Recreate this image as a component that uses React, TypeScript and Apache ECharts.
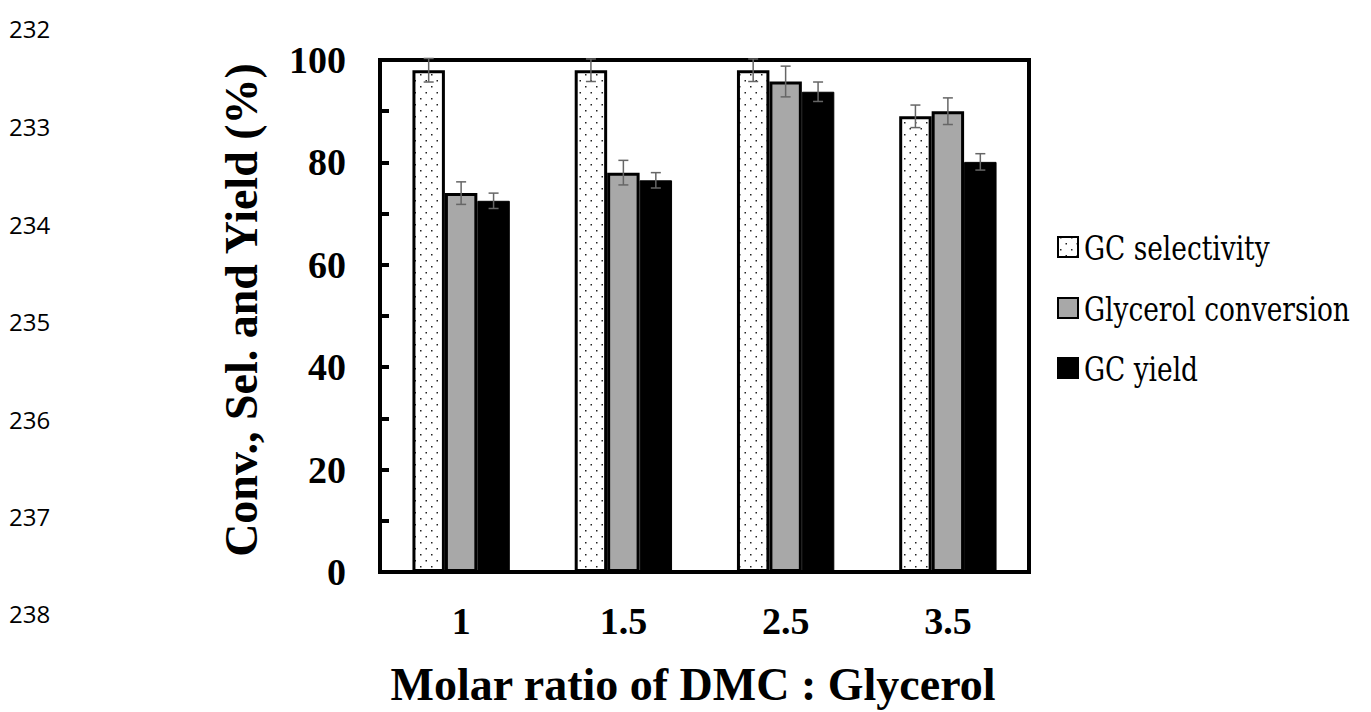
import React, { useEffect, useRef } from "react";
import * as echarts from "echarts";

const categories = ["1", "1.5", "2.5", "3.5"];
const seriesNames = ["GC selectivity", "Glycerol conversion", "GC yield"];
const selectivity = [98, 98, 98, 89];
const conversion = [74, 78, 95.8, 90];
const gcYield = [72.5, 76.5, 93.8, 80.1];
const selectivityErr = [2.3, 2.2, 2.2, 2.2];
const conversionErr = [2.2, 2.4, 3.0, 2.6];
const yieldErr = [1.5, 1.5, 1.9, 1.6];
const lineNumbers = ["232", "233", "234", "235", "236", "237", "238"];
const lineNumberY = [28, 126, 224, 321, 419, 516, 613];

function makeDots(): HTMLCanvasElement {
  const c = document.createElement("canvas");
  c.width = 11;
  c.height = 12;
  const ctx = c.getContext("2d")!;
  ctx.fillStyle = "#ffffff";
  ctx.fillRect(0, 0, 11, 12);
  ctx.fillStyle = "#222222";
  ctx.fillRect(2, 2, 1.5, 1.5);
  ctx.fillRect(7.5, 8, 1.5, 1.5);
  return c;
}

export default function App() {
  const ref = useRef<HTMLDivElement>(null);
  useEffect(() => {
    if (!ref.current) return;
    const chart = echarts.init(ref.current, undefined, { renderer: "svg" });
    const dots = makeDots();
    const serif = "Liberation Serif";
    const serifRegular = "DejaVu Serif";
    const fills: any[] = [
      { image: dots, repeat: "repeat" },
      "#a8a8a8",
      "#000000",
    ];
    const legendY = [247, 308, 368];
    const legendGraphics = seriesNames.map((n, i) => ({
      type: "group",
      x: 1058,
      y: legendY[i],
      children: [
        {
          type: "rect",
          shape: { x: 0, y: -10, width: 20, height: 20 },
          style: { fill: fills[i], stroke: "#000", lineWidth: 2 },
        },
        {
          type: "text",
          x: 26,
          y: 1,
          scaleX: 0.8,
          style: {
            text: n,
            fontFamily: serifRegular,
            fontWeight: "normal",
            fontSize: 33,
            fill: "#000",
            align: "left",
            verticalAlign: "middle",
          },
        },
      ],
    }));
    const errSeries = (vals: number[], errs: number[], offset: number) => ({
      type: "custom",
      z: 10,
      silent: true,
      data: vals.map((v, i) => [i, v, errs[i]]),
      encode: { x: 0, y: 1 },
      renderItem: (params: any, api: any) => {
        const ci = api.value(0);
        const v = api.value(1);
        const e = api.value(2);
        const catW = api.size([1, 0])[0];
        const x = api.coord([ci, v])[0] + offset * catW;
        const top = api.coord([ci, v + e])[1];
        const bot = api.coord([ci, v - e])[1];
        const cap = 5;
        const style = { stroke: "#666666", lineWidth: 1.5 };
        return {
          type: "group",
          children: [
            { type: "line", shape: { x1: x, y1: top, x2: x, y2: bot }, style },
            { type: "line", shape: { x1: x - cap, y1: top, x2: x + cap, y2: top }, style },
            { type: "line", shape: { x1: x - cap, y1: bot, x2: x + cap, y2: bot }, style },
          ],
        };
      },
    });
    chart.setOption({
      animation: false,
      backgroundColor: "#ffffff",
      textStyle: { fontFamily: serif },
      grid: {
        left: 380,
        right: 342,
        top: 60,
        bottom: 140,
        show: true,
        borderColor: "#000",
        borderWidth: 4,
        containLabel: false,
      },
      xAxis: {
        type: "category",
        data: categories,
        axisTick: { show: false },
        axisLine: { lineStyle: { color: "#000", width: 4 } },
        axisLabel: {
          fontFamily: serif,
          fontWeight: "bold",
          fontSize: 38,
          color: "#000",
          margin: 30,
        },
      },
      yAxis: {
        type: "value",
        min: 0,
        max: 100,
        interval: 10,
        splitLine: { show: false },
        axisLine: { show: true, lineStyle: { color: "#000", width: 4 } },
        axisTick: { show: true, inside: true, length: 9, lineStyle: { color: "#000", width: 4 } },
        axisLabel: {
          fontFamily: serif,
          fontWeight: "bold",
          fontSize: 38,
          color: "#000",
          margin: 34,
          formatter: (v: number) => (v % 20 === 0 ? String(v) : ""),
        },
      },
      graphic: [
        {
          type: "text",
          x: 241,
          y: 310,
          rotation: Math.PI / 2,
          style: {
            text: "Conv., Sel. and Yield (%)",
            fontFamily: serif,
            fontWeight: "bold",
            fontSize: 46,
            fill: "#000",
            align: "center",
            verticalAlign: "middle",
          },
        },
        {
          type: "text",
          x: 693,
          y: 684,
          style: {
            text: "Molar ratio of DMC : Glycerol",
            fontFamily: serif,
            fontWeight: "bold",
            fontSize: 46,
            fill: "#000",
            align: "center",
            verticalAlign: "middle",
          },
        },
        ...legendGraphics,
        ...lineNumbers.map((t, i) => ({
          type: "text",
          x: 9,
          y: lineNumberY[i],
          style: {
            text: t,
            fontFamily: "Open Sans",
            fontSize: 24,
            fill: "#000",
            align: "left",
            verticalAlign: "middle",
          },
        })),
      ],
      series: [
        {
          name: seriesNames[0],
          type: "bar",
          data: selectivity,
          barGap: "0%",
          barCategoryGap: "40%",
          itemStyle: { color: fills[0], borderColor: "#000", borderWidth: 3 },
        },
        {
          name: seriesNames[1],
          type: "bar",
          data: conversion,
          barGap: "0%",
          barCategoryGap: "40%",
          itemStyle: { color: fills[1], borderColor: "#000", borderWidth: 3 },
        },
        {
          name: seriesNames[2],
          type: "bar",
          data: gcYield,
          barGap: "0%",
          barCategoryGap: "40%",
          itemStyle: { color: fills[2], borderColor: "#000", borderWidth: 1 },
        },
        errSeries(selectivity, selectivityErr, -0.2),
        errSeries(conversion, conversionErr, 0),
        errSeries(gcYield, yieldErr, 0.2),
      ],
    });
    return () => chart.dispose();
  }, []);
  return <div ref={ref} style={{ width: 1371, height: 712, position: "absolute", left: 0, top: 0 }} />;
}
